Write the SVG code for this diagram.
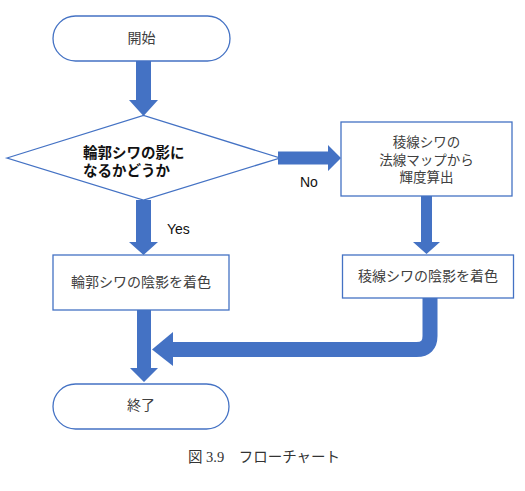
<svg xmlns="http://www.w3.org/2000/svg" width="525" height="491" viewBox="0 0 525 491">
<style>
.shape{fill:#ffffff;stroke:#4472C4;stroke-width:1.3}
.arrow{fill:#4472C4;stroke:none}
.t{font-family:"Noto Sans CJK JP","Noto Sans",sans-serif;font-size:14px;fill:#404040;text-anchor:middle}
.t2{font-family:"Noto Sans CJK JP","Noto Sans",sans-serif;font-size:13.5px;fill:#404040;text-anchor:middle}
.d{font-family:"Noto Sans CJK JP","Noto Sans",sans-serif;font-size:14.5px;font-weight:bold;fill:#111111}
.lbl{font-family:"Liberation Sans",Arial,sans-serif;font-size:14px;fill:#111111}
.cap{font-family:"Liberation Serif","Noto Sans CJK JP",serif;font-size:14.5px;fill:#333333;text-anchor:middle}
</style>
<rect width="525" height="491" fill="#ffffff"/>
<g id="connectors">
<polygon class="arrow" points="136,61 151,61 151,100 158,100 143.5,116 129,100 136,100"/>
<polygon class="arrow" points="136,200 151,200 151,242 158,242 143.5,255 129,242 136,242"/>
<polygon class="arrow" points="137,310 151,310 151,368 158,368 144,382 130,368 137,368"/>
<polygon class="arrow" points="278,151.5 328,151.5 328,145 341,158 328,171 328,164.5 278,164.5"/>
<polygon class="arrow" points="421,196 432,196 432,242 440,242 426.5,254 413,242 421,242"/>
<path d="M430,298 V336 Q430,349.5 416.5,349.5 H172" fill="none" stroke="#4472C4" stroke-width="15"/>
<polygon class="arrow" points="173,332 152,349.5 173,366"/>
</g>
<g id="start">
<rect class="shape" x="53" y="16" width="177" height="45" rx="22.5"/>
<text class="t" x="141.5" y="43">開始</text>
</g>
<g id="decision">
<polygon class="shape" points="7,158 143.5,115.5 280,158 143.5,200"/>
<text class="d" x="83" y="157.5">輪郭シワの影に</text>
<text class="d" x="83" y="176">なるかどうか</text>
</g>
<g id="label-yes"><text class="lbl" x="167" y="234">Yes</text></g>
<g id="label-no"><text class="lbl" x="300" y="186.5">No</text></g>
<g id="calc">
<rect class="shape" x="341" y="122" width="171" height="74"/>
<text class="t2" x="426.5" y="147">稜線シワの</text>
<text class="t2" x="426.5" y="164.5">法線マップから</text>
<text class="t2" x="426.5" y="182">輝度算出</text>
</g>
<g id="ridge-shade">
<rect class="shape" x="342.5" y="255" width="171" height="43"/>
<text class="t" x="428" y="280.5">稜線シワの陰影を着色</text>
</g>
<g id="contour-shade">
<rect class="shape" x="53" y="255" width="176" height="55"/>
<text class="t" x="141" y="287">輪郭シワの陰影を着色</text>
</g>
<g id="end">
<rect class="shape" x="53" y="384" width="176" height="45" rx="22.5"/>
<text class="t" x="141" y="410">終了</text>
</g>
<text class="cap" x="264" y="462">図 3.9　フローチャート</text>
</svg>
